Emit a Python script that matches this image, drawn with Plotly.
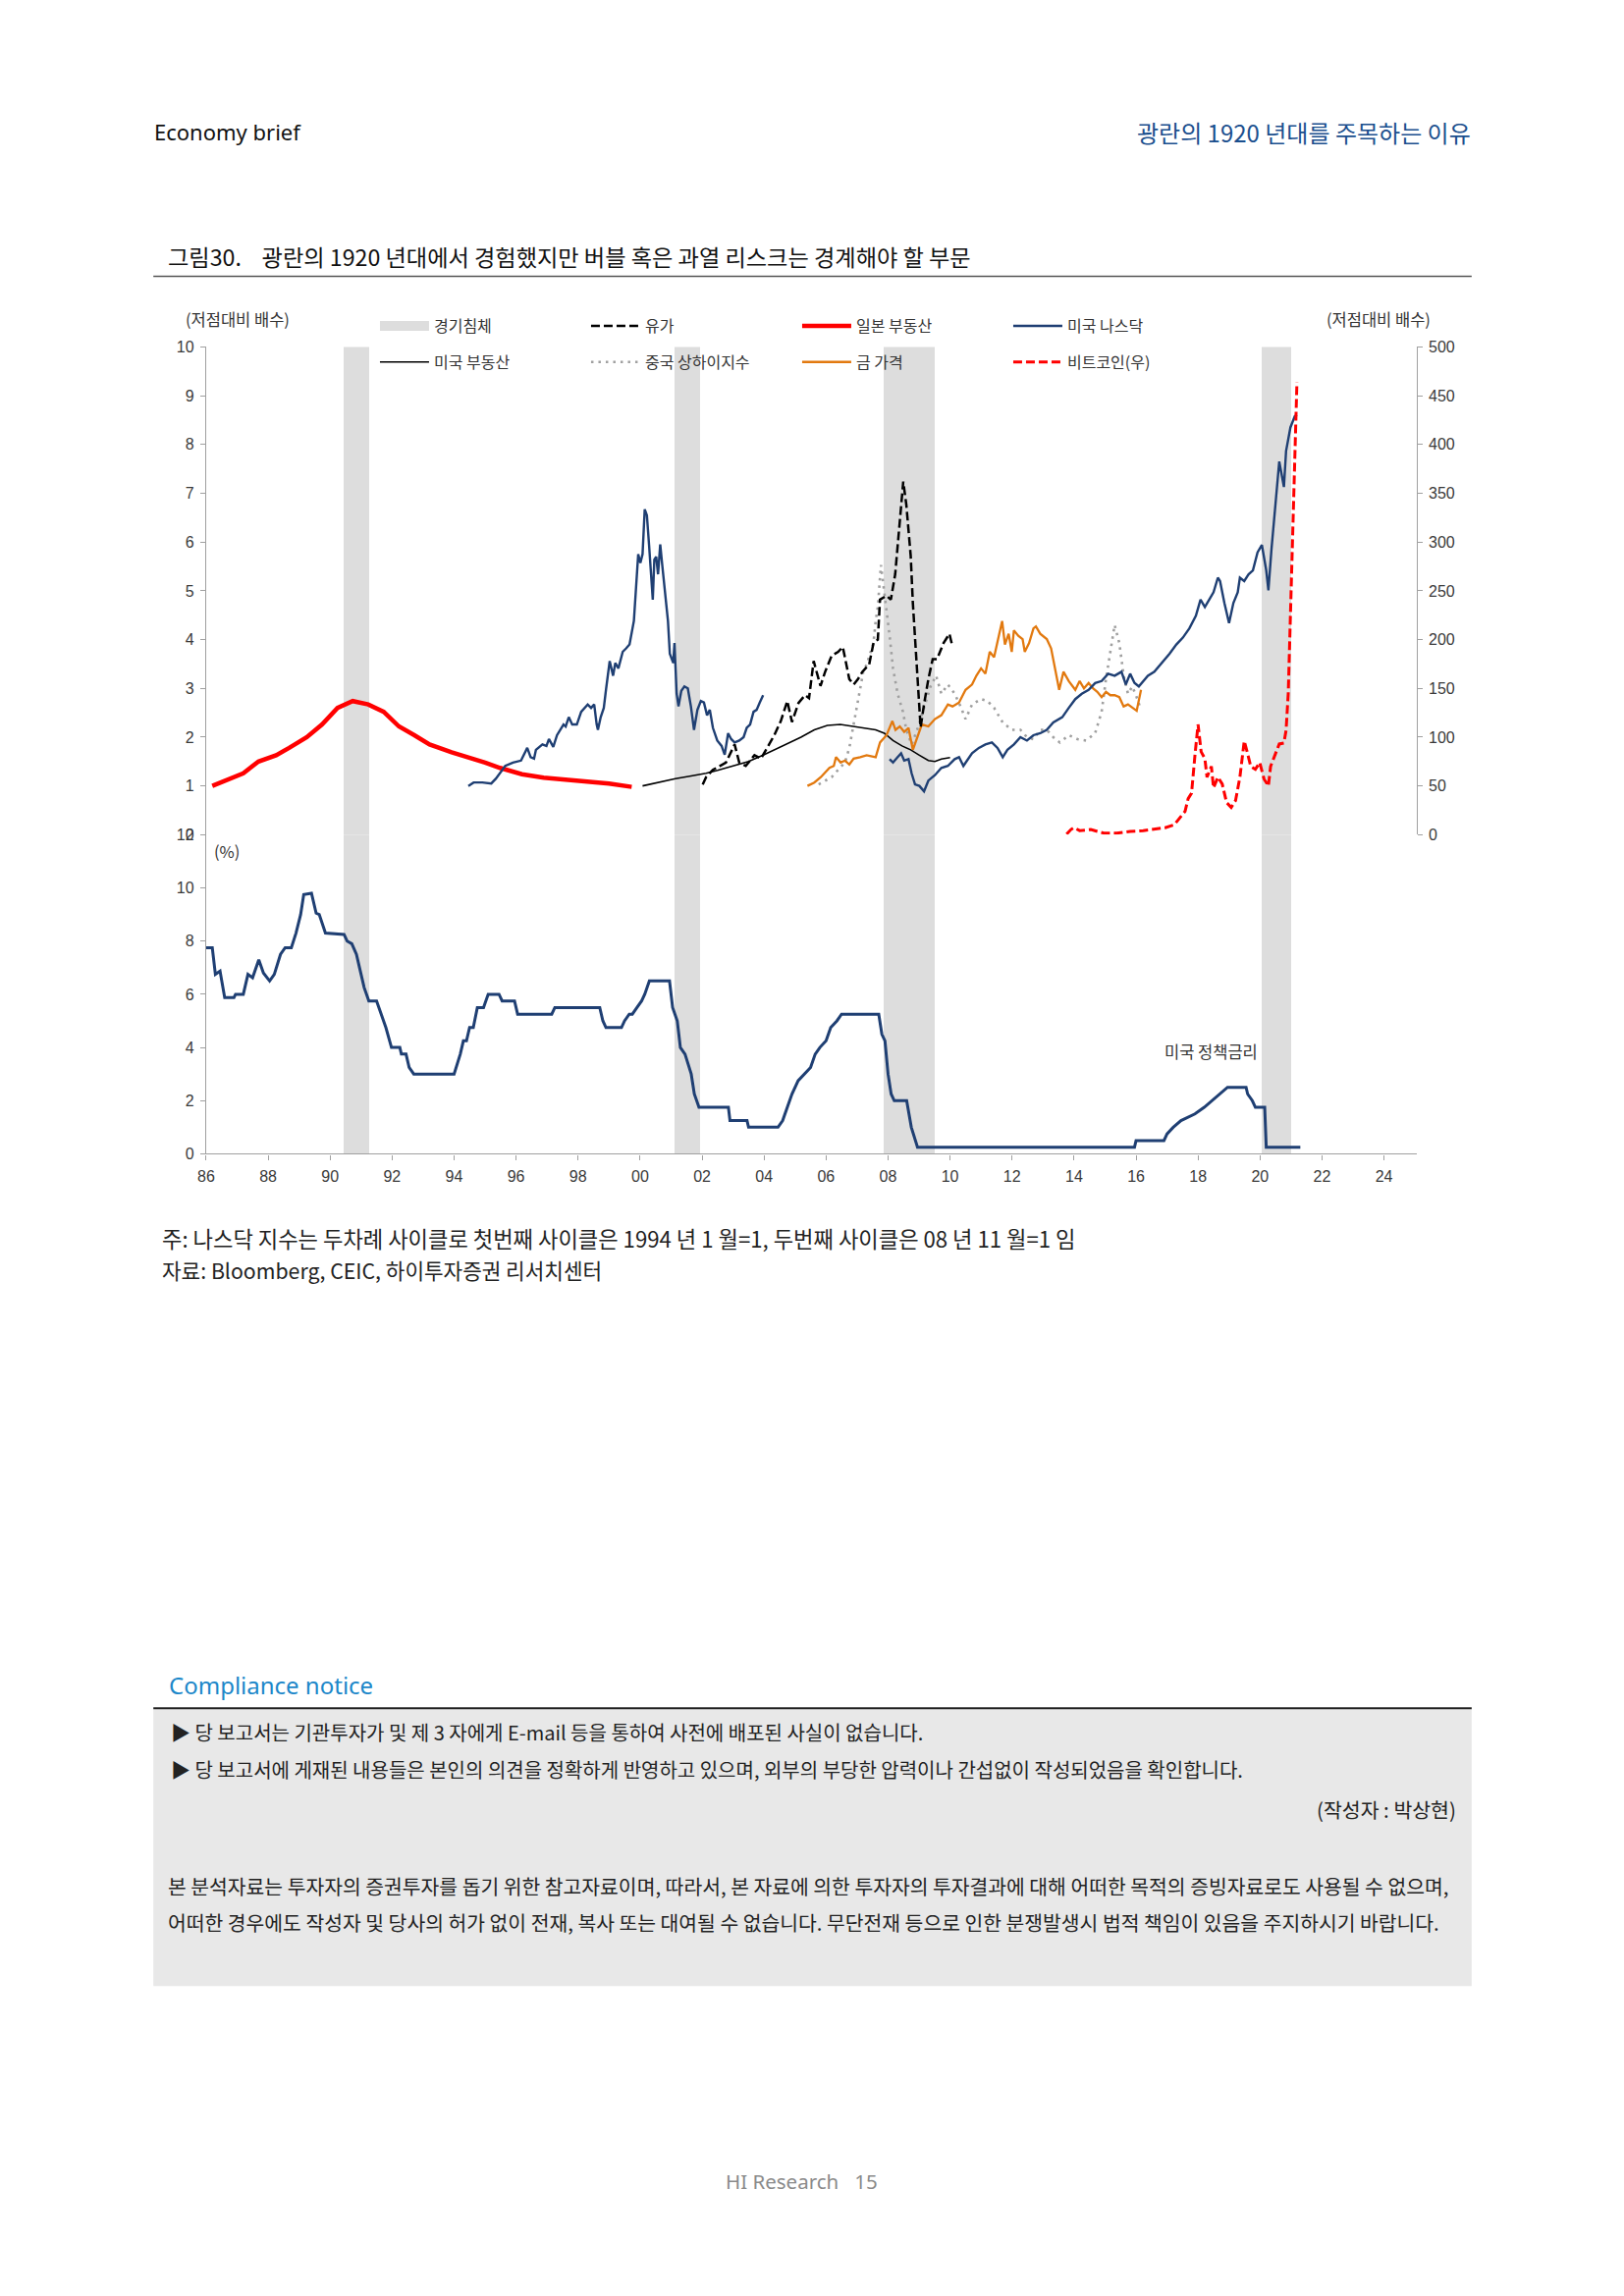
import plotly.graph_objects as go

W, H = 1654, 2339
DX, DY = -10, -10
def P(px): return (px + DX) / W
def Q(py): return 1 - (py + DY) / H

KR = "Noto Sans CJK KR"
NUM = "Liberation Sans"

# ---------------- data ----------------
rec_start = [1990.45, 2001.12, 2007.87, 2020.05]
rec_end = [1991.27, 2001.94, 2009.50, 2021.00]

japan_t = [1986.2, 1986.7, 1987.2, 1987.69, 1988.26, 1988.68, 1989.25, 1989.74, 1990.24, 1990.73, 1991.23, 1991.73,
           1992.22, 1992.72, 1993.21, 1993.92, 1994.63, 1995.0, 1995.48, 1996.19, 1996.89, 1997.6, 1998.31, 1999.0, 1999.73]
japan_v = [1.00, 1.12, 1.26, 1.50, 1.63, 1.78, 2.00, 2.26, 2.60, 2.74, 2.67, 2.52,
           2.22, 2.04, 1.85, 1.69, 1.56, 1.48, 1.37, 1.24, 1.17, 1.13, 1.09, 1.05, 0.98]

usre_t = [2000.08, 2000.6, 2001.14, 2001.6, 2002.13, 2002.5, 2002.98, 2003.5, 2003.97, 2004.3, 2004.77, 2005.19, 2005.62,
          2006.04, 2006.46, 2006.89, 2007.31, 2007.6, 2007.88, 2008.16, 2008.45, 2008.73, 2009.01, 2009.3, 2009.51, 2009.72, 2010.0]
usre_v = [1.00, 1.08, 1.15, 1.20, 1.26, 1.32, 1.41, 1.50, 1.63, 1.73, 1.87, 2.00, 2.15,
          2.24, 2.26, 2.22, 2.19, 2.15, 2.08, 1.93, 1.82, 1.74, 1.63, 1.52, 1.50, 1.55, 1.58]

oil_t = [2002.02, 2002.13, 2002.35, 2002.56, 2002.77, 2003.05, 2003.20, 2003.41, 2003.69, 2003.90,
         2004.12, 2004.33, 2004.54, 2004.75, 2004.90, 2005.11, 2005.32, 2005.45, 2005.6, 2005.82,
         2005.97, 2006.18, 2006.39, 2006.54, 2006.75, 2006.89, 2007.03, 2007.17, 2007.39, 2007.53,
         2007.67, 2007.74, 2007.95, 2008.09, 2008.23, 2008.38, 2008.49, 2008.59, 2008.73, 2008.80,
         2008.94, 2009.05, 2009.16, 2009.30, 2009.44, 2009.58, 2009.79, 2009.98, 2010.08]
oil_v = [1.03, 1.18, 1.33, 1.41, 1.48, 1.85, 1.48, 1.41, 1.63, 1.56,
         1.82, 2.04, 2.33, 2.74, 2.31, 2.70, 2.86, 2.80, 3.56, 3.05,
         3.34, 3.67, 3.75, 3.85, 3.19, 3.08, 3.19, 3.34, 3.49, 3.93,
         4.00, 4.82, 4.90, 4.82, 5.34, 6.46, 7.24, 6.76, 5.72, 4.75,
         3.19, 2.20, 2.67, 3.19, 3.60, 3.60, 3.93, 4.12, 3.85]

sh_t = [2005.76, 2005.97, 2006.18, 2006.39, 2006.61, 2006.75, 2006.89, 2007.0, 2007.10, 2007.20,
        2007.31, 2007.43, 2007.53, 2007.60, 2007.67, 2007.77, 2007.85, 2007.95, 2008.05, 2008.16,
        2008.31, 2008.48, 2008.59, 2008.76, 2008.94, 2009.16, 2009.37, 2009.55, 2009.72, 2009.93,
        2010.15, 2010.36, 2010.50, 2010.71, 2011.0, 2011.21, 2011.42, 2011.70, 2011.99, 2012.27,
        2012.48, 2012.69, 2012.91, 2013.12, 2013.33, 2013.54, 2013.83, 2014.11, 2014.39, 2014.68,
        2014.89, 2015.03, 2015.17, 2015.31, 2015.46, 2015.60, 2015.74, 2015.88, 2016.02, 2016.16]
sh_v = [1.03, 1.11, 1.18, 1.33, 1.48, 1.78, 2.26, 2.67, 3.04, 3.34,
        3.49, 3.75, 3.93, 4.38, 4.67, 5.53, 5.12, 4.60, 4.08, 3.41,
        2.89, 2.52, 2.15, 1.85, 2.15, 2.60, 3.04, 3.26, 2.89, 3.08,
        2.89, 2.60, 2.37, 2.67, 2.78, 2.74, 2.60, 2.30, 2.15, 2.15,
        2.00, 1.96, 2.15, 2.15, 2.00, 1.89, 2.04, 1.96, 1.93, 2.08,
        2.52, 3.19, 3.71, 4.30, 3.93, 3.26, 2.89, 3.04, 2.82, 2.56]

gold_t = [2005.40, 2005.62, 2005.83, 2006.11, 2006.25, 2006.32, 2006.47, 2006.61, 2006.75, 2006.89,
          2007.10, 2007.31, 2007.60, 2007.74, 2007.95, 2008.14, 2008.24, 2008.38, 2008.52, 2008.66,
          2008.80, 2008.94, 2009.09, 2009.30, 2009.51, 2009.72, 2009.93, 2010.08, 2010.29, 2010.50,
          2010.71, 2010.85, 2011.0, 2011.14, 2011.28, 2011.42, 2011.56, 2011.68, 2011.77, 2011.89,
          2011.99, 2012.06, 2012.20, 2012.34, 2012.41, 2012.55, 2012.69, 2012.77, 2012.91, 2013.12,
          2013.26, 2013.40, 2013.52, 2013.66, 2013.83, 2014.04, 2014.18, 2014.32, 2014.47, 2014.61,
          2014.75, 2014.89, 2015.03, 2015.17, 2015.31, 2015.46, 2015.60, 2015.74, 2015.88, 2016.02, 2016.16]
gold_v = [1.00, 1.07, 1.18, 1.37, 1.41, 1.59, 1.48, 1.52, 1.44, 1.56,
          1.59, 1.63, 1.59, 1.89, 2.04, 2.33, 2.15, 2.22, 2.11, 2.19,
          1.74, 2.00, 2.26, 2.22, 2.37, 2.45, 2.67, 2.63, 2.71, 2.97,
          3.08, 3.26, 3.41, 3.30, 3.75, 3.64, 4.04, 4.38, 3.90, 4.12,
          3.75, 4.19, 4.08, 4.01, 3.75, 3.93, 4.23, 4.27, 4.12, 4.01,
          3.82, 3.34, 2.97, 3.34, 3.15, 2.97, 3.15, 3.00, 3.11, 3.00,
          2.93, 2.82, 2.93, 2.86, 2.86, 2.82, 2.63, 2.67, 2.60, 2.54, 2.97]

nq1_t = [1994.46, 1994.63, 1994.91, 1995.20, 1995.35, 1995.48, 1995.65, 1995.90, 1996.16, 1996.36,
         1996.47, 1996.58, 1996.64, 1996.85, 1996.98, 1997.06, 1997.20, 1997.32, 1997.53, 1997.60,
         1997.70, 1997.81, 1997.96, 1998.10, 1998.31, 1998.42, 1998.52, 1998.60, 1998.64, 1998.73,
         1998.83, 1998.90, 1999.02, 1999.13, 1999.20, 1999.30, 1999.40, 1999.44, 1999.55, 1999.66,
         1999.80, 1999.87, 1999.94, 2000.01, 2000.08, 2000.15, 2000.22, 2000.29, 2000.36, 2000.41,
         2000.46, 2000.52, 2000.58, 2000.65, 2000.72, 2000.82, 2000.90, 2000.96, 2001.07, 2001.11,
         2001.18, 2001.24, 2001.33, 2001.43, 2001.54, 2001.64, 2001.74, 2001.85, 2001.96, 2002.06,
         2002.16, 2002.25, 2002.35, 2002.49, 2002.63, 2002.73, 2002.84, 2002.94, 2003.05, 2003.20,
         2003.34, 2003.44, 2003.55, 2003.66, 2003.76, 2003.86, 2003.97]
nq1_v = [1.00, 1.07, 1.07, 1.05, 1.15, 1.26, 1.41, 1.48, 1.52, 1.78,
         1.59, 1.56, 1.74, 1.85, 1.82, 1.96, 1.80, 2.04, 2.26, 2.22,
         2.41, 2.26, 2.26, 2.52, 2.67, 2.60, 2.67, 2.26, 2.15, 2.41,
         2.60, 2.97, 3.56, 3.26, 3.52, 3.41, 3.64, 3.75, 3.82, 3.90,
         4.38, 4.97, 5.75, 5.57, 5.75, 6.67, 6.55, 5.94, 5.30, 4.82,
         5.64, 5.70, 5.34, 5.95, 5.50, 4.90, 4.38, 3.71, 3.52, 3.93,
         2.89, 2.63, 2.95, 3.04, 3.00, 2.63, 2.15, 2.56, 2.74, 2.71,
         2.45, 2.56, 2.19, 1.93, 1.82, 1.64, 2.08, 1.96, 1.89, 1.93,
         2.00, 2.19, 2.26, 2.52, 2.56, 2.71, 2.86]

nq2_t = [2008.05, 2008.16, 2008.31, 2008.42, 2008.52, 2008.66, 2008.76, 2008.87, 2009.01, 2009.16,
         2009.30, 2009.51, 2009.72, 2009.93, 2010.15, 2010.29, 2010.43, 2010.57, 2010.71, 2010.93,
         2011.14, 2011.35, 2011.53, 2011.70, 2011.85, 2012.06, 2012.27, 2012.48, 2012.69, 2012.91,
         2013.12, 2013.33, 2013.62, 2013.83, 2014.04, 2014.25, 2014.47, 2014.68, 2014.89, 2015.10,
         2015.31, 2015.53, 2015.67, 2015.81, 2015.95, 2016.09, 2016.23, 2016.38, 2016.59, 2016.80,
         2017.08, 2017.30, 2017.51, 2017.72, 2017.93, 2018.08, 2018.22, 2018.36, 2018.50, 2018.64,
         2018.71, 2018.85, 2019.00, 2019.14, 2019.28, 2019.35, 2019.49, 2019.63, 2019.77, 2019.92,
         2020.06, 2020.20, 2020.27, 2020.37, 2020.48, 2020.62, 2020.77, 2020.84, 2020.98, 2021.12, 2021.19]
nq2_v = [1.55, 1.48, 1.59, 1.67, 1.52, 1.55, 1.26, 1.03, 1.00, 0.89,
         1.11, 1.22, 1.37, 1.41, 1.55, 1.59, 1.41, 1.55, 1.67, 1.78,
         1.85, 1.89, 1.78, 1.59, 1.74, 1.85, 2.00, 1.93, 2.04, 2.08,
         2.15, 2.30, 2.41, 2.60, 2.78, 2.89, 2.97, 3.11, 3.15, 3.30,
         3.26, 3.34, 3.08, 3.30, 3.11, 3.04, 3.15, 3.26, 3.34, 3.49,
         3.71, 3.90, 4.04, 4.23, 4.49, 4.82, 4.67, 4.82, 4.97, 5.27,
         5.20, 4.75, 4.34, 4.75, 4.97, 5.27, 5.20, 5.34, 5.42, 5.79,
         5.94, 5.42, 5.01, 5.86, 6.61, 7.65, 7.13, 7.87, 8.35, 8.58, 8.61]

btc_t = [2013.76, 2013.90, 2014.00, 2014.18, 2014.54, 2014.96, 2015.38, 2015.81, 2016.23, 2016.66,
         2016.94, 2017.23, 2017.44, 2017.58, 2017.68, 2017.79, 2017.90, 2018.00, 2018.10, 2018.22,
         2018.29, 2018.43, 2018.50, 2018.64, 2018.78, 2018.92, 2019.07, 2019.21, 2019.35, 2019.49,
         2019.60, 2019.70, 2019.85, 2019.99, 2020.13, 2020.27, 2020.34, 2020.48, 2020.62, 2020.77,
         2020.84, 2020.91, 2020.98, 2021.05, 2021.12, 2021.19]
btc_v = [0.5, 5.3, 7.2, 4.2, 5.3, 1.6, 1.6, 3.4, 4.2, 6.4,
         7.2, 10.1, 18.3, 23.9, 36.9, 42.5, 81.5, 113, 85, 78,
         59, 70, 48, 59, 52, 33, 28, 35, 59, 96,
         83, 70, 67, 74, 57, 50, 70, 81, 93, 94,
         107, 145, 219, 293, 386, 464]

fed_t = [1986.0, 1986.2, 1986.3, 1986.45, 1986.6, 1986.9, 1986.95, 1987.2, 1987.35, 1987.5,
         1987.7, 1987.85, 1988.05, 1988.2, 1988.4, 1988.55, 1988.75, 1988.9, 1989.05, 1989.15,
         1989.4, 1989.55, 1989.65, 1989.85, 1990.45, 1990.55, 1990.7, 1990.85, 1990.95, 1991.1,
         1991.25, 1991.5, 1991.65, 1991.8, 1991.98, 1992.25, 1992.3, 1992.45, 1992.55, 1992.7,
         1994.0, 1994.2, 1994.3, 1994.4, 1994.5, 1994.62, 1994.75, 1994.95, 1995.1, 1995.45,
         1995.55, 1995.95, 1996.05, 1997.15, 1997.25, 1998.7, 1998.8, 1998.9, 1999.4, 1999.5,
         1999.65, 1999.75, 1999.9, 2000.05, 2000.15, 2000.3, 2000.95, 2001.05, 2001.2, 2001.3,
         2001.45, 2001.65, 2001.75, 2001.9, 2002.85, 2002.9, 2003.45, 2003.5, 2004.45, 2004.6,
         2004.75, 2004.9, 2005.1, 2005.3, 2005.5, 2005.65, 2005.8, 2006.0, 2006.15, 2006.35,
         2006.5, 2007.7, 2007.8, 2007.9, 2008.0, 2008.1, 2008.2, 2008.6, 2008.75, 2008.95,
         2015.95, 2016.0, 2016.9, 2017.0, 2017.2, 2017.45, 2017.9, 2018.2, 2018.45, 2018.7,
         2018.95, 2019.55, 2019.6, 2019.75, 2019.85, 2020.15, 2020.2, 2021.3]
fed_v = [7.75, 7.75, 6.75, 6.87, 5.88, 5.88, 6.0, 6.0, 6.75, 6.62,
         7.3, 6.8, 6.5, 6.75, 7.5, 7.75, 7.75, 8.3, 9.0, 9.75,
         9.8, 9.05, 9.0, 8.3, 8.25, 8.0, 7.9, 7.5, 7.0, 6.25,
         5.75, 5.75, 5.25, 4.75, 4.0, 4.0, 3.75, 3.75, 3.25, 3.0,
         3.0, 3.75, 4.25, 4.25, 4.75, 4.75, 5.5, 5.5, 6.0, 6.0,
         5.75, 5.75, 5.25, 5.25, 5.5, 5.5, 5.0, 4.75, 4.75, 5.0,
         5.25, 5.25, 5.5, 5.75, 6.0, 6.5, 6.5, 5.5, 5.0, 4.0,
         3.75, 3.0, 2.25, 1.75, 1.75, 1.25, 1.25, 1.0, 1.0, 1.25,
         1.75, 2.25, 2.75, 3.0, 3.25, 3.75, 4.0, 4.25, 4.75, 5.0,
         5.25, 5.25, 4.5, 4.25, 3.0, 2.25, 2.0, 2.0, 1.0, 0.25,
         0.25, 0.5, 0.5, 0.75, 1.0, 1.25, 1.5, 1.75, 2.0, 2.25,
         2.5, 2.5, 2.25, 2.0, 1.75, 1.75, 0.25, 0.25]

x_tickvals = list(range(1986, 2025, 2))
x_ticktext = ["86", "88", "90", "92", "94", "96", "98", "00", "02", "04", "06",
              "08", "10", "12", "14", "16", "18", "20", "22", "24"]

# ---------------- figure ----------------
fig = go.Figure()

rec_mid = [(s + e) / 2 for s, e in zip(rec_start, rec_end)]
rec_w = [e - s for s, e in zip(rec_start, rec_end)]
fig.add_trace(go.Bar(x=rec_mid, y=[10] * len(rec_mid), width=rec_w, xaxis="x2", yaxis="y",
                     marker=dict(color="#DDDDDD", line=dict(width=0)), showlegend=False, hoverinfo="skip"))
fig.add_trace(go.Bar(x=rec_mid, y=[12] * len(rec_mid), width=rec_w, xaxis="x", yaxis="y3",
                     marker=dict(color="#DDDDDD", line=dict(width=0)), showlegend=False, hoverinfo="skip"))

# legend entry for the recession shading
fig.add_trace(go.Scatter(x=[None], y=[None], mode="lines", name="경기침체", xaxis="x2", yaxis="y",
                         line=dict(color="#DDDDDD", width=10), legend="legend", legendrank=1))

fig.add_trace(go.Scatter(x=japan_t, y=japan_v, mode="lines", name="일본 부동산", xaxis="x2", yaxis="y",
                         line=dict(color="#FF0000", width=4.5), legend="legend", legendrank=3))
fig.add_trace(go.Scatter(x=usre_t, y=usre_v, mode="lines", name="미국 부동산", xaxis="x2", yaxis="y",
                         line=dict(color="#000000", width=1.6), legend="legend2", legendrank=1))
fig.add_trace(go.Scatter(x=sh_t, y=sh_v, mode="lines", name="중국 상하이지수", xaxis="x2", yaxis="y",
                         line=dict(color="#A0A0A0", width=2.6, dash="2.5px,5px"), legend="legend2", legendrank=2))
fig.add_trace(go.Scatter(x=gold_t, y=gold_v, mode="lines", name="금 가격", xaxis="x2", yaxis="y",
                         line=dict(color="#E2790F", width=2.3), legend="legend2", legendrank=3))
fig.add_trace(go.Scatter(x=nq1_t + [None] + nq2_t, y=nq1_v + [None] + nq2_v, mode="lines", name="미국 나스닥",
                         xaxis="x2", yaxis="y", connectgaps=False,
                         line=dict(color="#1F3F73", width=2.4), legend="legend", legendrank=4))
fig.add_trace(go.Scatter(x=oil_t, y=oil_v, mode="lines", name="유가", xaxis="x2", yaxis="y",
                         line=dict(color="#000000", width=2.5, dash="9px,4px"), legend="legend", legendrank=2))
fig.add_trace(go.Scatter(x=btc_t, y=btc_v, mode="lines", name="비트코인(우)", xaxis="x2", yaxis="y2",
                         line=dict(color="#FF0000", width=3, dash="9px,4px"), legend="legend2", legendrank=4))
fig.add_trace(go.Scatter(x=fed_t, y=fed_v, mode="lines", name="미국 정책금리", xaxis="x", yaxis="y3",
                         line=dict(color="#1F3F73", width=3), showlegend=False))

XD = [P(212), P(1451.6)]
TOP = [Q(858.5), Q(358)]
BOT = [Q(1186), Q(858.5)]
axis_common = dict(showgrid=False, zeroline=False, showline=True, linecolor="#A0A0A0", linewidth=1.2,
                   ticks="outside", ticklen=5, tickcolor="#A0A0A0", ticklabelstandoff=3,
                   tickfont=dict(family=NUM, size=16, color="#3A3A3A"))

legend_common = dict(orientation="h", xanchor="left", yanchor="middle",
                     entrywidth=150, entrywidthmode="pixels", itemwidth=50, traceorder="normal",
                     font=dict(family=KR, size=16, color="#333333"), bgcolor="rgba(0,0,0,0)")

fig.update_layout(
    width=W, height=H, autosize=False,
    margin=dict(l=0, r=0, t=0, b=0, pad=0),
    paper_bgcolor="white", plot_bgcolor="rgba(0,0,0,0)",
    barmode="overlay", bargap=0,
    font=dict(family=NUM, color="#333333"),
    xaxis=dict(domain=XD, range=[1986, 2025.05], anchor="y3",
               tickvals=x_tickvals, ticktext=x_ticktext, **axis_common),
    xaxis2=dict(domain=XD, range=[1986, 2025.05], anchor="y", matches="x", visible=False),
    yaxis=dict(domain=TOP, range=[0, 10], anchor="x2", tickvals=list(range(0, 11)), **axis_common),
    yaxis2=dict(domain=TOP, range=[0, 500], anchor="x2", overlaying="y", side="right",
                tickvals=list(range(0, 501, 50)), **axis_common),
    yaxis3=dict(domain=BOT, range=[0, 12], anchor="x", tickvals=list(range(0, 13, 2)), **axis_common),
    showlegend=True,
    legend=dict(x=P(385), y=Q(336.5), **legend_common),
    legend2=dict(x=P(385), y=Q(373.5), **legend_common),
)

NB = "\u00a0"
ann = []
def A(text, x, y, size, color="#222222", family=KR, xanchor="left"):
    ann.append(dict(text=text, x=P(x), y=Q(y), xref="paper", yref="paper", showarrow=False,
                    xanchor=xanchor, yanchor="middle", font=dict(family=family, size=size, color=color)))

A("Economy brief", 157, 137, 22, "#111111", "Noto Sans")
A("광란의 1920 년대를 주목하는 이유", 1509, 137, 24, "#1B4F8E", KR, "right")
A("그림30." + NB * 4 + "광란의 1920 년대에서 경험했지만 버블 혹은 과열 리스크는 경계해야 할 부문", 171, 265, 23.2, "#111111")
A("(저점대비 배수)", 244, 329, 16.5, "#333333", KR, "center")
A("(저점대비 배수)", 1413, 329, 16.5, "#333333", KR, "center")
A("(%)", 233, 875, 16.5, "#333333", KR, "center")
A("미국 정책금리", 1241, 1081, 16.5, "#333333", KR, "center")
A("주: 나스닥 지수는 두차례 사이클로 첫번째 사이클은 1994 년 1 월=1, 두번째 사이클은 08 년 11 월=1 임", 165, 1272, 22.2)
A("자료: Bloomberg, CEIC, 하이투자증권 리서치센터", 165, 1305, 21.3)
A("Compliance notice", 172, 1731, 24, "#1C87C9", "Noto Sans")
A("▶ 당 보고서는 기관투자가 및 제 3 자에게 E-mail 등을 통하여 사전에 배포된 사실이 없습니다.", 174, 1779, 20)
A("▶ 당 보고서에 게재된 내용들은 본인의 의견을 정확하게 반영하고 있으며, 외부의 부당한 압력이나 간섭없이 작성되었음을 확인합니다.", 174, 1818, 20)
A("(작성자 : 박상현)", 1494, 1858, 20.5, "#222222", KR, "right")
A("본 분석자료는 투자자의 증권투자를 돕기 위한 참고자료이며, 따라서, 본 자료에 의한 투자자의 투자결과에 대해 어떠한 목적의 증빙자료로도 사용될 수 없으며,", 171, 1937, 20.4)
A("어떠한 경우에도 작성자 및 당사의 허가 없이 전재, 복사 또는 대여될 수 없습니다. 무단전재 등으로 인한 분쟁발생시 법적 책임이 있음을 주지하시기 바랍니다.", 171, 1974, 20.4)
A("HI Research" + NB * 3 + "15", 822, 2240, 20.5, "#8A8A8A", "Noto Sans", "center")
fig.update_layout(annotations=ann)

shapes = [
    dict(type="line", xref="paper", yref="paper", x0=P(158), x1=P(1508), y0=Q(285.5), y1=Q(285.5),
         line=dict(color="#555555", width=1.5)),
    dict(type="rect", xref="paper", yref="paper", x0=P(158), x1=P(1508), y0=Q(2040), y1=Q(1755),
         fillcolor="#E8E8E8", line=dict(width=0), layer="below"),
    dict(type="line", xref="paper", yref="paper", x0=P(158), x1=P(1508), y0=Q(1755), y1=Q(1755),
         line=dict(color="#222222", width=2)),
]
fig.update_layout(shapes=shapes)

fig.write_html("out.html", config={"displayModeBar": False},
               post_script="document.body.style.margin='0px';")
